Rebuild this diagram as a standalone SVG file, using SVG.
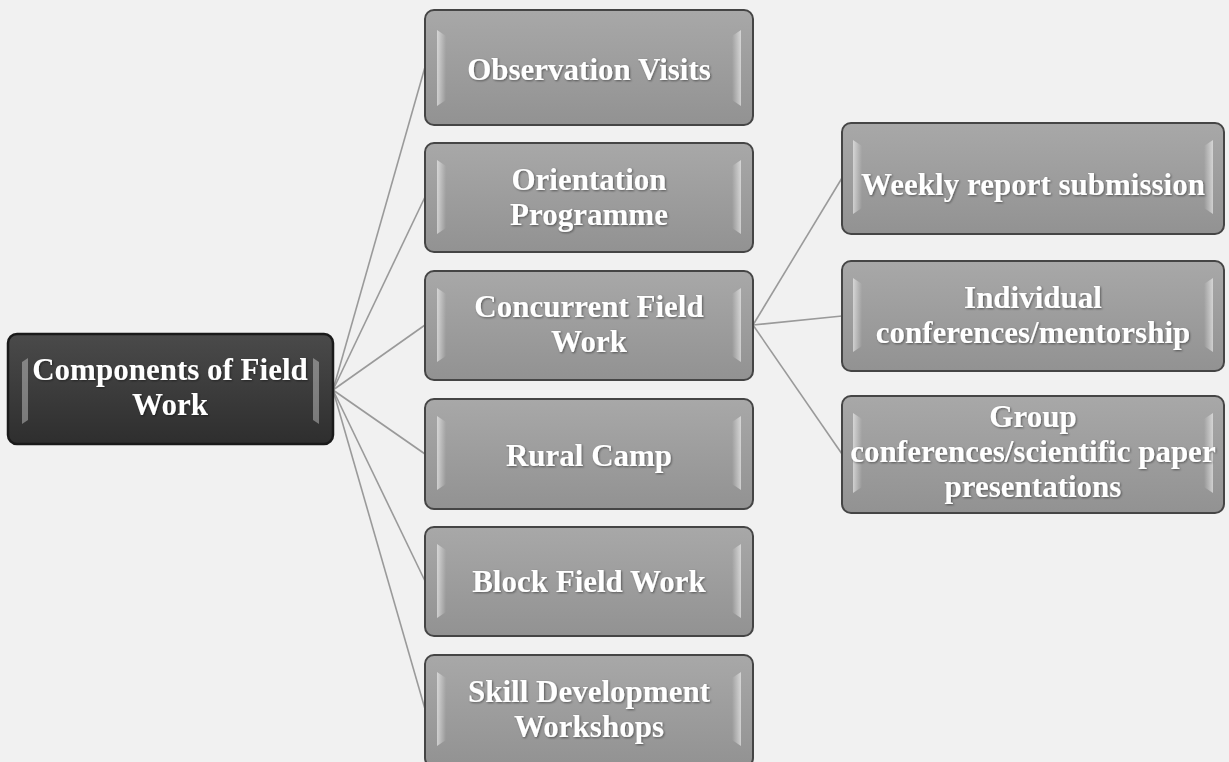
<svg xmlns="http://www.w3.org/2000/svg" width="1229" height="762" viewBox="0 0 1229 762">
<defs>
<linearGradient id="g" x1="0" y1="0" x2="0" y2="1">
<stop offset="0" stop-color="#a8a8a8"/>
<stop offset="0.5" stop-color="#9d9d9d"/>
<stop offset="1" stop-color="#929292"/>
</linearGradient>
<linearGradient id="gd" x1="0" y1="0" x2="0" y2="1">
<stop offset="0" stop-color="#4a4a4a"/>
<stop offset="0.5" stop-color="#3c3c3c"/>
<stop offset="1" stop-color="#2e2e2e"/>
</linearGradient>
<linearGradient id="hl" x1="0" y1="0" x2="1" y2="0">
<stop offset="0" stop-color="#ffffff" stop-opacity="0.55"/>
<stop offset="1" stop-color="#ffffff" stop-opacity="0"/>
</linearGradient>
<linearGradient id="hr" x1="1" y1="0" x2="0" y2="0">
<stop offset="0" stop-color="#ffffff" stop-opacity="0.55"/>
<stop offset="1" stop-color="#ffffff" stop-opacity="0"/>
</linearGradient>
<filter id="sh" x="-5%" y="-10%" width="110%" height="120%">
<feDropShadow dx="1" dy="1" stdDeviation="0.8" flood-color="#000" flood-opacity="0.45"/>
</filter>
</defs>
<style>
.box{fill:url(#g);stroke:#454545;stroke-width:2}
.root{fill:url(#gd);stroke:#1a1a1a;stroke-width:2.5}
.t{font-family:"Liberation Serif","Times New Roman",serif;font-weight:bold;font-size:31px;fill:#ffffff;text-anchor:middle;filter:url(#sh)}
.c{stroke:#9a9a9a;stroke-width:1.6;fill:none}
</style>
<rect width="1229" height="762" fill="#f1f1f1"/>
<g id="connectors">
<line class="c" x1="333" y1="390" x2="425" y2="67"/>
<line class="c" x1="333" y1="390" x2="425" y2="197"/>
<line class="c" x1="333" y1="390" x2="425" y2="325"/>
<line class="c" x1="333" y1="390" x2="425" y2="454"/>
<line class="c" x1="333" y1="390" x2="425" y2="581"/>
<line class="c" x1="333" y1="390" x2="425" y2="709"/>
<line class="c" x1="753" y1="325" x2="842" y2="178"/>
<line class="c" x1="753" y1="325" x2="842" y2="316"/>
<line class="c" x1="753" y1="325" x2="842" y2="454"/>
</g>
<g id="root">
<rect class="root" x="8" y="334" width="325" height="110" rx="9"/>
<path d="M22 362 L28 358 L28 420 L22 424 Z" fill="#ffffff" opacity="0.35"/>
<path d="M319 362 L313 358 L313 420 L319 424 Z" fill="#ffffff" opacity="0.35"/>
<text class="t" x="170" y="380">Components of Field</text>
<text class="t" x="170" y="415">Work</text>
</g>
<g id="n-observation">
<rect class="box" x="425" y="10" width="328" height="115" rx="9"/>
<path d="M437 30 L446 36 L446 100 L437 106 Z" fill="url(#hl)"/>
<path d="M741 30 L732 36 L732 100 L741 106 Z" fill="url(#hr)"/>
<text class="t" x="589" y="80">Observation Visits</text>
</g>
<g id="n-orientation">
<rect class="box" x="425" y="143" width="328" height="109" rx="9"/>
<path d="M437 160 L446 166 L446 228 L437 234 Z" fill="url(#hl)"/>
<path d="M741 160 L732 166 L732 228 L741 234 Z" fill="url(#hr)"/>
<text class="t" x="589" y="190">Orientation</text>
<text class="t" x="589" y="225">Programme</text>
</g>
<g id="n-concurrent">
<rect class="box" x="425" y="271" width="328" height="109" rx="9"/>
<path d="M437 288 L446 294 L446 356 L437 362 Z" fill="url(#hl)"/>
<path d="M741 288 L732 294 L732 356 L741 362 Z" fill="url(#hr)"/>
<text class="t" x="589" y="317">Concurrent Field</text>
<text class="t" x="589" y="352">Work</text>
</g>
<g id="n-rural">
<rect class="box" x="425" y="399" width="328" height="110" rx="9"/>
<path d="M437 416 L446 422 L446 484 L437 490 Z" fill="url(#hl)"/>
<path d="M741 416 L732 422 L732 484 L741 490 Z" fill="url(#hr)"/>
<text class="t" x="589" y="466">Rural Camp</text>
</g>
<g id="n-block">
<rect class="box" x="425" y="527" width="328" height="109" rx="9"/>
<path d="M437 544 L446 550 L446 612 L437 618 Z" fill="url(#hl)"/>
<path d="M741 544 L732 550 L732 612 L741 618 Z" fill="url(#hr)"/>
<text class="t" x="589" y="592">Block Field Work</text>
</g>
<g id="n-skill">
<rect class="box" x="425" y="655" width="328" height="112" rx="9"/>
<path d="M437 672 L446 678 L446 740 L437 746 Z" fill="url(#hl)"/>
<path d="M741 672 L732 678 L732 740 L741 746 Z" fill="url(#hr)"/>
<text class="t" x="589" y="702">Skill Development</text>
<text class="t" x="589" y="737">Workshops</text>
</g>
<g id="n-weekly">
<rect class="box" x="842" y="123" width="382" height="111" rx="9"/>
<path d="M853 140 L862 146 L862 208 L853 214 Z" fill="url(#hl)"/>
<path d="M1213 140 L1204 146 L1204 208 L1213 214 Z" fill="url(#hr)"/>
<text class="t" x="1033" y="195">Weekly report submission</text>
</g>
<g id="n-individual">
<rect class="box" x="842" y="261" width="382" height="110" rx="9"/>
<path d="M853 278 L862 284 L862 346 L853 352 Z" fill="url(#hl)"/>
<path d="M1213 278 L1204 284 L1204 346 L1213 352 Z" fill="url(#hr)"/>
<text class="t" x="1033" y="308">Individual</text>
<text class="t" x="1033" y="343">conferences/mentorship</text>
</g>
<g id="n-group">
<rect class="box" x="842" y="396" width="382" height="117" rx="9"/>
<path d="M853 413 L862 419 L862 487 L853 493 Z" fill="url(#hl)"/>
<path d="M1213 413 L1204 419 L1204 487 L1213 493 Z" fill="url(#hr)"/>
<text class="t" x="1033" y="427">Group</text>
<text class="t" x="1033" y="462">conferences/scientific paper</text>
<text class="t" x="1033" y="497">presentations</text>
</g>
</svg>
